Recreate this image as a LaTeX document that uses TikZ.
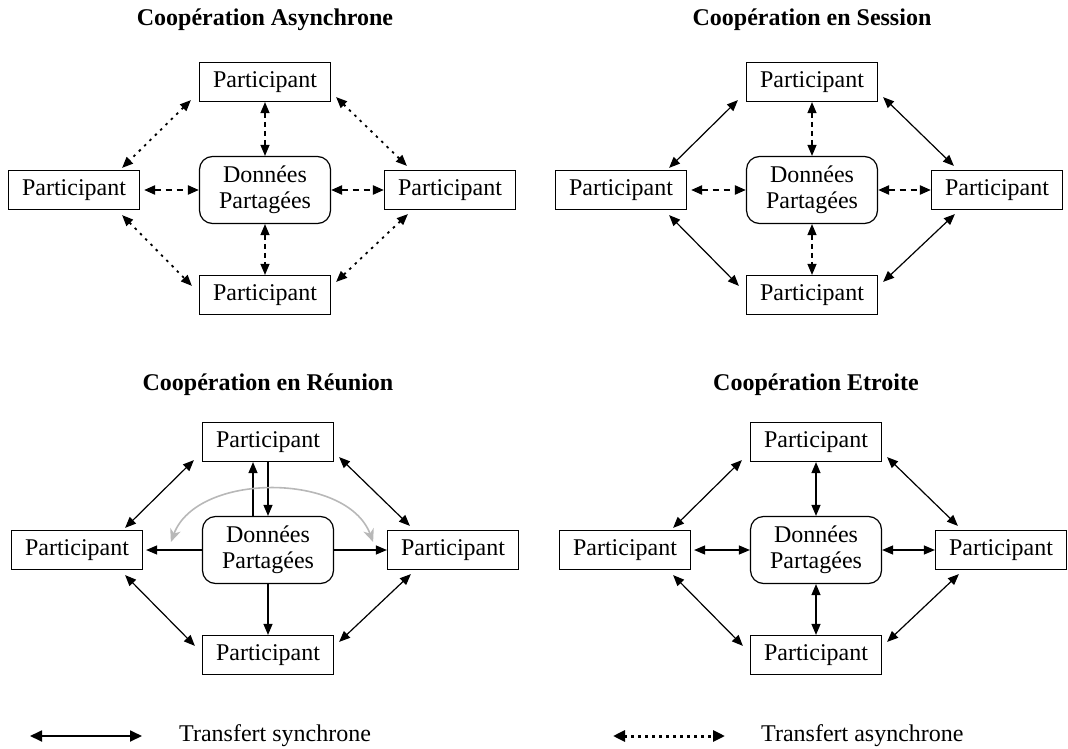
\documentclass[tikz,border=0pt]{standalone}
\usepackage{fontspec}
\setmainfont{Liberation Serif}
\usetikzlibrary{arrows.meta,calc}
\tikzset{
  txt/.style={font=\fontsize{24}{26}\selectfont},
  pbox/.style={txt, draw, line width=1.2pt, minimum width=131pt, minimum height=39pt, inner sep=0pt},
  dbox/.style={txt, draw, line width=1.2pt, rounded corners=13pt, minimum width=131pt, minimum height=67pt, inner sep=0pt, align=center},
  titre/.style={font=\fontsize{24}{26}\selectfont\bfseries, inner sep=0pt},
  legtext/.style={txt, anchor=west, inner sep=0pt},
  syn/.style={line width=1.2pt, {Triangle[length=11pt,width=9pt]}-{Triangle[length=11pt,width=9pt]}},
  uni/.style={line width=1.2pt, -{Triangle[length=11pt,width=9pt]}},
  asyd/.style={line width=1.8pt, dash pattern=on 2.5pt off 5pt, {Triangle[length=11pt,width=9pt]}-{Triangle[length=11pt,width=9pt]}},
  asyh/.style={line width=2.2pt, dash pattern=on 6pt off 5pt, {Triangle[length=11pt,width=9pt]}-{Triangle[length=11pt,width=9pt]}},
  asyv/.style={line width=1.2pt, dash pattern=on 5pt off 4pt, {Triangle[length=11pt,width=9pt]}-{Triangle[length=11pt,width=9pt]}},
  grayarc/.style={line width=1.6pt, black!28, {Stealth[length=13pt,width=11pt,inset=4pt]}-{Stealth[length=13pt,width=11pt,inset=4pt]}},
  legsyn/.style={line width=1.8pt, {Triangle[length=12pt,width=11pt]}-{Triangle[length=12pt,width=11pt]}},
  legasy/.style={line width=3pt, dash pattern=on 3pt off 4pt, {Triangle[length=12pt,width=11pt]}-{Triangle[length=12pt,width=11pt]}},
}
\newcommand\coopnodes[5]{%
  \node[dbox] (#1d) at (#2,#3) {Données\\Partagées};
  \node[pbox] (#1t) at ($(#1d)+(0,-108)$) {Participant};
  \node[pbox] (#1l) at ($(#1d)+(-191,0)$) {Participant};
  \node[pbox] (#1r) at ($(#1d)+(185,0)$) {Participant};
  \node[pbox] (#1b) at ($(#1d)+(0,105)$) {Participant};
  \node[titre] (#1title) at (#2,#4) {#5};
}
\newcommand\coopdiag[2]{%
  \draw[#2] ([shift={(-8,-2)}]#1t.south west) -- ([shift={(-18,-2)}]#1l.north east);
  \draw[#2] ([shift={(5,-5)}]#1t.south east) -- ([shift={(23,-4)}]#1r.north west);
  \draw[#2] ([shift={(-18,5)}]#1l.south east) -- ([shift={(-7,11)}]#1b.north west);
  \draw[#2] ([shift={(24,4)}]#1r.south west) -- ([shift={(5,7)}]#1b.north east);
}
\begin{document}
\begin{tikzpicture}[x=1pt,y=-1pt]
\useasboundingbox (0,0) rectangle (1068,749);
% --- Asynchrone
\coopnodes{a}{265}{190}{20}{Coopération Asynchrone}
\coopdiag{a}{asyd}
\draw[asyv] (at.south) -- (ad.north);
\draw[asyv] (ad.south) -- (ab.north);
\draw[asyh, shorten <=4pt] (al.east) -- (ad.west);
\draw[asyh] (ad.east) -- (ar.west);
% --- Session
\coopnodes{s}{812}{190}{20}{Coopération en Session}
\coopdiag{s}{syn}
\draw[asyv] (st.south) -- (sd.north);
\draw[asyv] (sd.south) -- (sb.north);
\draw[asyh, shorten <=4pt] (sl.east) -- (sd.west);
\draw[asyh] (sd.east) -- (sr.west);
% --- Reunion
\coopnodes{r}{268}{550}{385}{Coopération en Réunion}
\coopdiag{r}{syn}
\draw[uni] ([xshift=-15]rd.north) -- ([xshift=-15]rt.south);
\draw[uni] (rt.south) -- (rd.north);
\draw[uni, shorten >=3pt] (rd.west) -- (rl.east);
\draw[uni] (rd.east) -- (rr.west);
\draw[uni] (rd.south) -- (rb.north);
\coordinate (rgl) at ([shift={(-31,-8)}]rd.west);
\coordinate (rgr) at ([shift={(39,-8)}]rd.east);
\draw[grayarc] (rgl) .. controls ($(rgl)+(26,-70)$) and ($(rgr)+(-26,-70)$) .. (rgr);
% --- Etroite
\coopnodes{e}{816}{550}{385}{Coopération Etroite}
\coopdiag{e}{syn}
\draw[syn] (et.south) -- (ed.north);
\draw[syn] (ed.south) -- (eb.north);
\draw[syn, shorten <=3pt] (el.east) -- (ed.west);
\draw[syn] (ed.east) -- (er.west);
% --- Legend
\coordinate (ls1) at (30,736);
\coordinate (ls2) at (142,736);
\draw[legsyn] (ls1) -- (ls2);
\node[legtext] (lst) at (179,736) {Transfert synchrone};
\coordinate (la1) at (613,736);
\coordinate (la2) at (725,736);
\draw[legasy] (la1) -- (la2);
\node[legtext] (lat) at (761,736) {Transfert asynchrone};
\end{tikzpicture}
\end{document}
